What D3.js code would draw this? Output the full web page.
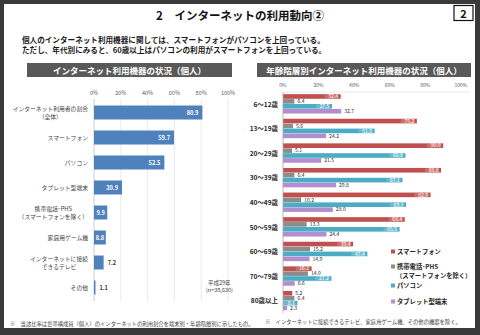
<!DOCTYPE html>
<html>
<head>
<meta charset="utf-8">
<script src="https://cdn.jsdelivr.net/npm/d3@7"></script>
<style>
  body { margin: 0; background: #fff; }
  svg text { font-family: "Noto Sans CJK JP", "Noto Sans", sans-serif; }
</style>
</head>
<body>
<div id="chart"></div>
<script>
// left chart data
var deviceLabels = [
  ["インターネット利用者の割合", "（全体）"],
  ["スマートフォン"],
  ["パソコン"],
  ["タブレット型端末"],
  ["携帯電話･PHS", "（スマートフォンを除く）"],
  ["家庭用ゲーム機"],
  ["インターネットに接続", "できるテレビ"],
  ["その他"]
];
var deviceValues = [80.9, 59.7, 52.5, 20.9, 9.9, 8.8, 7.2, 1.1];

// right chart data
var ageGroups = ["6〜12歳", "13〜19歳", "20〜29歳", "30〜39歳", "40〜49歳", "50〜59歳", "60〜69歳", "70〜79歳", "80歳以上"];
var seriesNames = ["スマートフォン", "携帯電話･PHS", "パソコン", "タブレット型端末"];
var smartphone = [32.4, 75.2, 90.0, 88.8, 82.9, 68.4, 39.4, 16.1, 5.2];
var mobilePhs = [6.4, 5.6, 5.1, 6.4, 10.2, 13.3, 15.2, 14.0, 6.4];
var pc = [27.5, 51.5, 68.8, 67.1, 69.1, 65.5, 47.4, 27.2, 8.1];
var tablet = [32.7, 24.2, 21.5, 29.8, 28.0, 24.4, 14.9, 6.6, 2.3];
var pctTicks = [0, 20, 40, 60, 80, 100];

var width = 480, height = 335;
var svg = d3.select("#chart").append("svg")
  .attr("width", width)
  .attr("height", height);

// frame
svg.append("rect").attr("width", width).attr("height", height).attr("fill", "#3a3a3a");
svg.append("rect").attr("x", 4).attr("y", 4).attr("width", 471).attr("height", 324).attr("fill", "#fff");

// heading
svg.append("text")
  .attr("x", 240).attr("y", 20)
  .attr("text-anchor", "middle")
  .attr("font-size", 11.5).attr("font-weight", "bold").attr("fill", "#111")
  .text("2　インターネットの利用動向②");

svg.append("rect")
  .attr("x", 454).attr("y", 5.5).attr("width", 19).attr("height", 15)
  .attr("fill", "#fff").attr("stroke", "#111").attr("stroke-width", 1.2);
svg.append("text")
  .attr("x", 463.5).attr("y", 17.5)
  .attr("text-anchor", "middle")
  .attr("font-size", 11).attr("font-weight", "bold").attr("fill", "#111")
  .text("2");

var lead = ["個人のインターネット利用機器に関しては、スマートフォンがパソコンを上回っている。",
            "ただし、年代別にみると、60歳以上はパソコンの利用がスマートフォンを上回っている。"];
svg.selectAll(".lead").data(lead).enter().append("text")
  .attr("x", 22).attr("y", function(d, i) { return 43 + i * 10; })
  .attr("font-size", 7.6).attr("font-weight", "bold").attr("fill", "#1a1a1a")
  .text(function(d) { return d; });

// chart title boxes
function titleBox(x0, x1, label) {
  svg.append("rect")
    .attr("x", x0).attr("y", 63).attr("width", x1 - x0).attr("height", 14)
    .attr("fill", "#595959");
  svg.append("text")
    .attr("x", (x0 + x1) / 2).attr("y", 73.5)
    .attr("text-anchor", "middle")
    .attr("font-size", 8.5).attr("font-weight", "bold").attr("fill", "#fff")
    .text(label);
}
titleBox(27, 232, "インターネット利用機器の状況（個人）");
titleBox(257, 471, "年齢階層別インターネット利用機器の状況（個人）");

// ---------- left chart ----------
var x1 = d3.scaleLinear().domain([0, 100]).range([94, 228]);
var y1 = d3.scaleBand().domain(d3.range(deviceValues.length))
  .range([100, 300]).paddingInner(0.44).paddingOuter(0.22);

var left = svg.append("g");

left.selectAll(".grid").data(pctTicks).enter().append("line")
  .attr("x1", function(d) { return x1(d); }).attr("x2", function(d) { return x1(d); })
  .attr("y1", 99).attr("y2", 301)
  .attr("stroke", function(d) { return d == 0 ? "#bfbfbf" : "#e3e3e3"; })
  .attr("stroke-width", 0.8);

left.selectAll(".tick").data(pctTicks).enter().append("text")
  .attr("x", function(d) { return x1(d); }).attr("y", 95)
  .attr("text-anchor", "middle")
  .attr("font-size", 5.5).attr("fill", "#595959")
  .text(function(d) { return d + "%"; });

left.selectAll(".bar").data(deviceValues).enter().append("rect")
  .attr("x", x1(0))
  .attr("y", function(d, i) { return y1(i); })
  .attr("width", function(d) { return x1(d) - x1(0); })
  .attr("height", y1.bandwidth())
  .attr("fill", "#4f81bd");

// label placement: near end inside, centered in narrow bars, outside for tiny ones
left.selectAll(".val").data(deviceValues).enter().append("text")
  .attr("x", function(d) {
    if (d >= 15) return x1(d) - 4;
    if (d >= 8) return (x1(0) + x1(d)) / 2;
    return x1(d) + 4;
  })
  .attr("y", function(d, i) { return y1(i) + y1.bandwidth() / 2 + 2; })
  .attr("text-anchor", function(d) { return d >= 15 ? "end" : d >= 8 ? "middle" : "start"; })
  .attr("font-size", 5.6).attr("font-weight", "bold")
  .attr("fill", function(d) { return d >= 8 ? "#fff" : "#404040"; })
  .text(function(d) { return d.toFixed(1); });

var catLabels = left.selectAll(".cat").data(deviceLabels).enter().append("g");
catLabels.each(function(lines, i) {
  var g = d3.select(this);
  var cy = y1(i) + y1.bandwidth() / 2;
  var start = cy + 2 - (lines.length - 1) * 4;
  var texts = g.selectAll("text").data(lines).enter().append("text")
    .attr("y", function(d, j) { return start + j * 8; })
    .attr("font-size", 5.8).attr("fill", "#404040")
    .attr("text-anchor", "middle")
    .text(function(d) { return d; });
  var w = 0;
  texts.each(function() { w = Math.max(w, this.getComputedTextLength()); });
  texts.attr("x", 88 - w / 2);
});

left.append("text").attr("x", 208).attr("y", 285)
  .attr("font-size", 5.5).attr("fill", "#404040").text("平成29年");
left.append("text").attr("x", 206).attr("y", 292)
  .attr("font-size", 5.5).attr("fill", "#404040").text("(n=38,630)");

svg.append("text").attr("x", 10).attr("y", 326)
  .attr("font-size", 5.3).attr("fill", "#404040")
  .text("※　当該比率は世帯構成員（個人）のインターネットの利用割合を端末別・年齢階層別に示したもの。");

// ---------- right chart ----------
var colors = ["#c0504d", "#8c8c8c", "#4bacc6", "#b18fcf"];
var seriesData = [smartphone, mobilePhs, pc, tablet];
var x2 = d3.scaleLinear().domain([0, 100]).range([283, 461]);
var y2 = d3.scaleBand().domain(ageGroups).range([91.7, 313.1]).paddingInner(0.2).paddingOuter(0.1);
var ys = d3.scaleBand().domain(d3.range(4)).range([0, y2.bandwidth()]);

var right = svg.append("g");

right.append("line")
  .attr("x1", 283).attr("x2", 470).attr("y1", 92).attr("y2", 92)
  .attr("stroke", "#e3e3e3").attr("stroke-width", 0.8);

right.selectAll(".tick").data(pctTicks).enter().append("text")
  .attr("x", function(d) { return x2(d); }).attr("y", 87)
  .attr("text-anchor", "middle")
  .attr("font-size", 5).attr("fill", "#595959")
  .text(function(d) { return d + "%"; });

var groups = right.selectAll(".grp").data(ageGroups).enter().append("g")
  .attr("transform", function(d) { return "translate(0," + y2(d) + ")"; });

groups.each(function(age, gi) {
  var g = d3.select(this);
  seriesData.forEach(function(arr, si) {
    var v = arr[gi];
    var by = ys(si), bh = ys.bandwidth();
    g.append("rect")
      .attr("x", x2(0)).attr("y", by)
      .attr("width", x2(v) - x2(0)).attr("height", bh - 0.3)
      .attr("fill", colors[si]);
    var inside = (si == 0 || si == 2) && v >= 8;
    if (inside) {
      g.append("rect")
        .attr("x", x2(v) - 16).attr("y", by + 0.3)
        .attr("width", 14).attr("height", bh - 0.9)
        .attr("fill", "#fff").attr("opacity", 0.18);
    }
    g.append("text")
      .attr("x", inside ? x2(v) - 2.5 : x2(v) + 3)
      .attr("y", by + bh - 0.8)
      .attr("text-anchor", inside ? "end" : "start")
      .attr("font-size", 5.1).attr("fill", inside ? "#fff" : "#262626")
      .text(v.toFixed(1));
  });
});

right.append("line")
  .attr("x1", x2(0)).attr("x2", x2(0)).attr("y1", 92).attr("y2", 313)
  .attr("stroke", "#a6a6a6").attr("stroke-width", 0.8);

right.selectAll(".age").data(ageGroups).enter().append("text")
  .attr("x", 278)
  .attr("y", function(d) { return y2(d) + y2.bandwidth() / 2 + 2.5; })
  .attr("text-anchor", "end")
  .attr("font-size", 6.5).attr("font-weight", "bold").attr("fill", "#262626")
  .text(function(d) { return d; });

// legend
var legendLines = [["スマートフォン"], ["携帯電話･PHS", "（スマートフォンを除く）"], ["パソコン"], ["タブレット型端末"]];
var legendY = [254, 269, 288, 304];
var legend = right.selectAll(".leg").data(legendLines).enter().append("g")
  .attr("transform", function(d, i) { return "translate(391," + legendY[i] + ")"; });
legend.append("rect")
  .attr("x", 0).attr("y", -4.5).attr("width", 4).attr("height", 4)
  .attr("fill", function(d, i) { return colors[i]; });
legend.each(function(lines) {
  d3.select(this).selectAll("text").data(lines).enter().append("text")
    .attr("x", function(d, j) { return j == 0 ? 6 : 5; })
    .attr("y", function(d, j) { return j * 8.5; })
    .attr("font-size", 6.3).attr("font-weight", "bold").attr("fill", "#262626")
    .text(function(d) { return d; });
});

svg.append("text").attr("x", 265).attr("y", 324)
  .attr("font-size", 5.3).attr("fill", "#404040")
  .text("※　インターネットに接続できるテレビ、家庭用ゲーム機、その他の機器を除く。");
</script>
</body>
</html>
